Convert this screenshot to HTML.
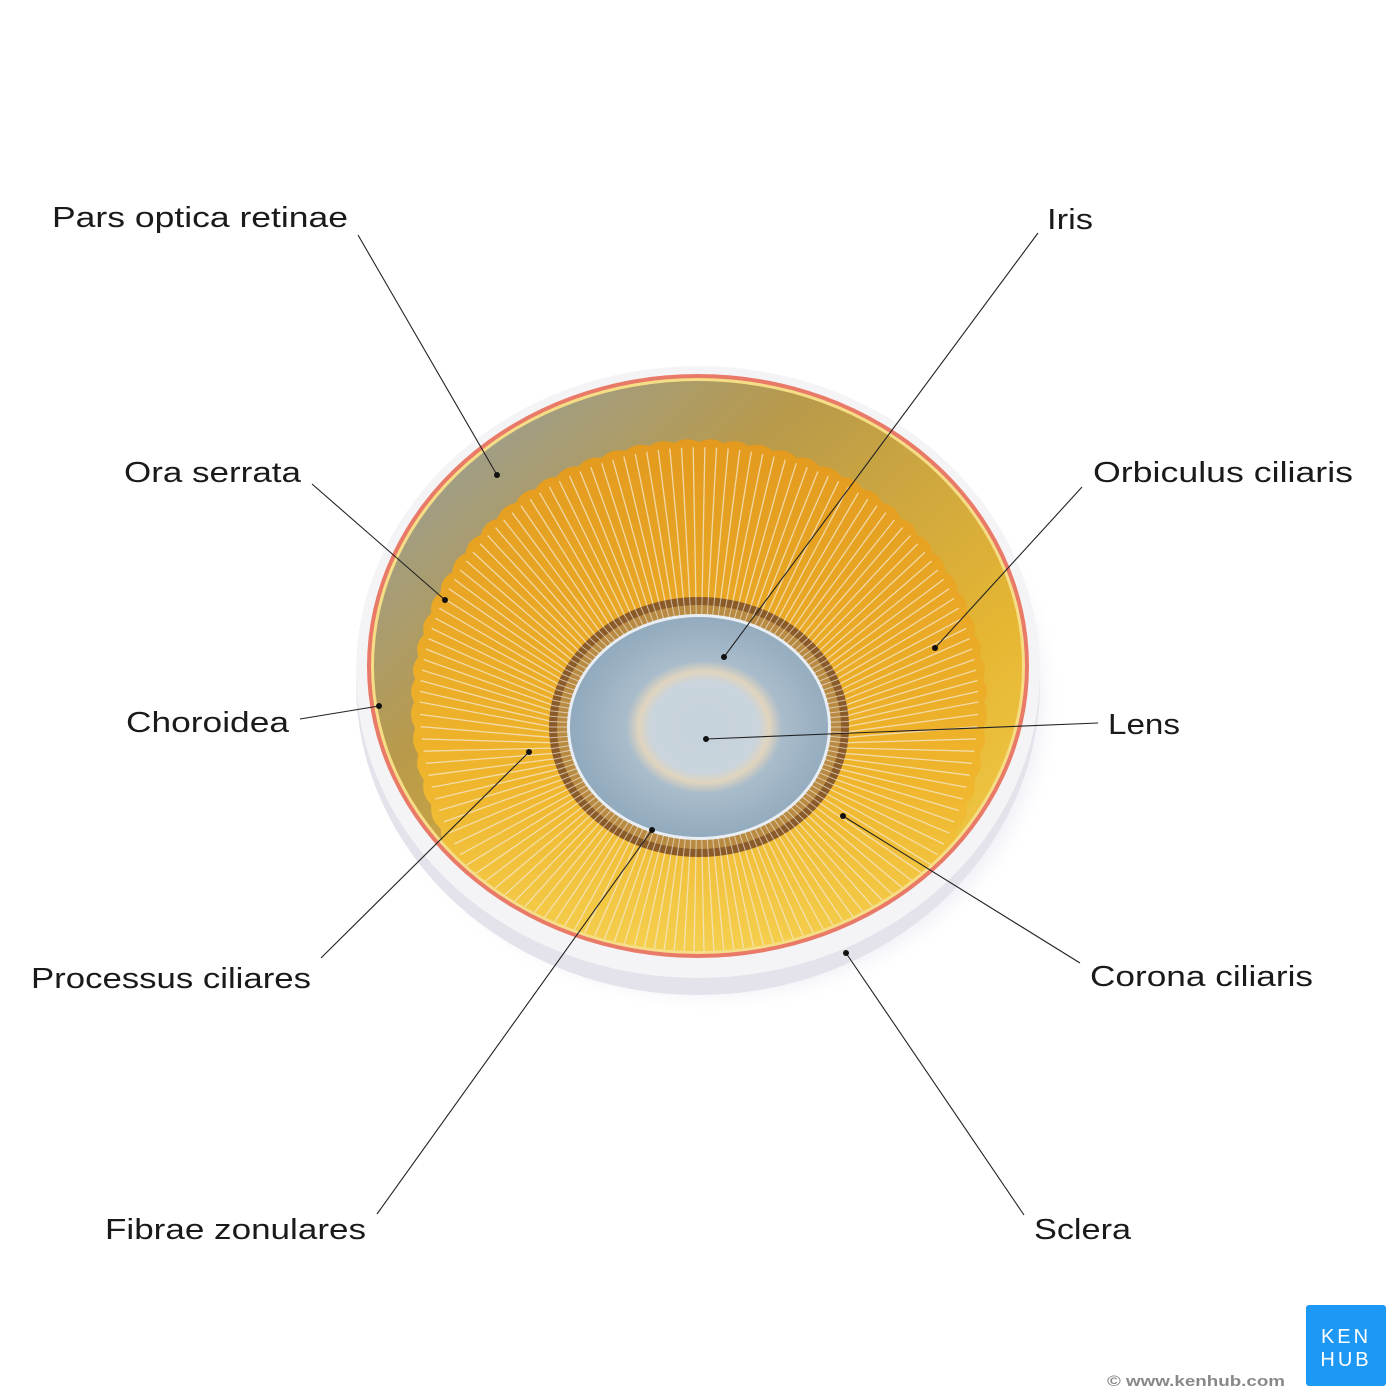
<!DOCTYPE html>
<html><head><meta charset="utf-8"><style>
html,body{margin:0;padding:0;background:#fff;width:1400px;height:1400px;overflow:hidden;}
svg{display:block;}
text{font-family:"Liberation Sans",sans-serif;}
</style></head><body>
<svg id="s" width="1400" height="1400" viewBox="0 0 1400 1400" xmlns="http://www.w3.org/2000/svg">
<defs>
<radialGradient id="shadow" cx="0.5" cy="0.5" r="0.5">
<stop offset="0.85" stop-color="#b8b8d8" stop-opacity="0.6"/><stop offset="1" stop-color="#fff" stop-opacity="0"/>
</radialGradient>
<linearGradient id="inner" x1="0" y1="0" x2="1" y2="1">
<stop offset="0" stop-color="#8fa0ae"/><stop offset="0.35" stop-color="#b99a4a"/><stop offset="0.7" stop-color="#e6b632"/><stop offset="1" stop-color="#f2d050"/>
</linearGradient>
<linearGradient id="cil2" x1="0" y1="0" x2="0" y2="1">
<stop offset="0" stop-color="#e39a1e"/><stop offset="0.6" stop-color="#efb52c"/><stop offset="1" stop-color="#f6d758"/>
</linearGradient>
<radialGradient id="lens" cx="0.52" cy="0.5" r="0.55">
<stop offset="0" stop-color="#c6d2dc"/><stop offset="0.38" stop-color="#c9d4dc"/><stop offset="0.46" stop-color="#e0d4be"/><stop offset="0.55" stop-color="#a9bccb"/><stop offset="1" stop-color="#8ea7bb"/>
</radialGradient>
<clipPath id="clipIn"><ellipse cx="698" cy="666" rx="324" ry="285"/></clipPath>
</defs>
<ellipse cx="710" cy="700" rx="355" ry="315" fill="url(#shadow)"/>
<ellipse cx="698" cy="683" rx="342" ry="312" fill="#e4e2ea"/>
<ellipse cx="698" cy="672" rx="342" ry="306" fill="#f4f3f6"/>
<ellipse cx="698" cy="666" rx="331" ry="292" fill="#e97a68"/>
<ellipse cx="698" cy="666" rx="327" ry="288" fill="#f6de86"/>
<ellipse cx="698" cy="666" rx="324" ry="285" fill="url(#inner)"/>
<g clip-path="url(#clipIn)">
<path id="ora" fill="url(#cil2)" d=""/>
<g id="fib" stroke="#f3e6c8" stroke-width="1.3" fill="none" opacity="0.8"></g>
</g>
<ellipse cx="699" cy="727" rx="150" ry="130" fill="#8a5a28"/>
<ellipse cx="699" cy="727" rx="142" ry="122" fill="#b88a42"/>
<g id="fib2" stroke="#efe6d8" stroke-width="1" opacity="0.7"></g>
<ellipse cx="699" cy="727" rx="132" ry="113" fill="#e8eef3"/>
<ellipse cx="699" cy="727" rx="129" ry="110" fill="url(#lens)"/>
<g stroke="#222" stroke-width="1.1">
<line x1="358" y1="235" x2="497" y2="475"/>
<line x1="1038" y1="233" x2="724" y2="657"/>
<line x1="312" y1="484" x2="445" y2="600"/>
<line x1="1082" y1="487" x2="935" y2="648"/>
<line x1="300" y1="719" x2="379" y2="706"/>
<line x1="1098" y1="723" x2="706" y2="739"/>
<line x1="321" y1="958" x2="529" y2="752"/>
<line x1="1080" y1="963" x2="843" y2="816"/>
<line x1="377" y1="1214" x2="652" y2="830"/>
<line x1="1024" y1="1215" x2="846" y2="953"/>
</g>
<g fill="#111">
<circle cx="497" cy="475" r="3"/><circle cx="724" cy="657" r="3"/><circle cx="445" cy="600" r="3"/>
<circle cx="935" cy="648" r="3"/><circle cx="379" cy="706" r="3"/><circle cx="706" cy="739" r="3"/>
<circle cx="529" cy="752" r="3"/><circle cx="843" cy="816" r="3"/><circle cx="652" cy="830" r="3"/><circle cx="846" cy="953" r="3"/>
</g>
<g fill="#1a1a1a" font-size="29">
<text x="52" y="227" textLength="296" lengthAdjust="spacingAndGlyphs">Pars optica retinae</text>
<text x="1047" y="229" textLength="46" lengthAdjust="spacingAndGlyphs">Iris</text>
<text x="124" y="482" textLength="177" lengthAdjust="spacingAndGlyphs">Ora serrata</text>
<text x="1093" y="482" textLength="260" lengthAdjust="spacingAndGlyphs">Orbiculus ciliaris</text>
<text x="126" y="732" textLength="163" lengthAdjust="spacingAndGlyphs">Choroidea</text>
<text x="1108" y="734" textLength="72" lengthAdjust="spacingAndGlyphs">Lens</text>
<text x="31" y="988" textLength="280" lengthAdjust="spacingAndGlyphs">Processus ciliares</text>
<text x="1090" y="986" textLength="223" lengthAdjust="spacingAndGlyphs">Corona ciliaris</text>
<text x="105" y="1239" textLength="261" lengthAdjust="spacingAndGlyphs">Fibrae zonulares</text>
<text x="1034" y="1239" textLength="97" lengthAdjust="spacingAndGlyphs">Sclera</text>
</g>
<rect x="1306" y="1305" width="80" height="81" rx="3" fill="#1e98f5"/>
<text x="1346" y="1343" fill="#fff" font-size="20" text-anchor="middle" letter-spacing="3">KEN</text>
<text x="1346" y="1366" fill="#fff" font-size="20" text-anchor="middle" letter-spacing="3">HUB</text>
<text x="1107" y="1386" fill="#888" font-size="15" font-weight="bold" textLength="178" lengthAdjust="spacingAndGlyphs">© www.kenhub.com</text>
</svg>
<script>
(function(){
var NS="http://www.w3.org/2000/svg";
var cx=699,cy=727;
var d="",N=72;
function pt(t,sc){var rx=285*sc, ry=260*sc;return [cx+rx*Math.cos(t), cy-25+ry*Math.sin(t)+(Math.sin(t)>0?40*Math.sin(t):0)];}
for(var i=0;i<=N*4;i++){
  var t=i/(N*4)*2*Math.PI;
  var p=pt(t,1+0.012*Math.abs(Math.sin(t*N/2)));
  d+=(i?"L":"M")+p[0].toFixed(1)+" "+p[1].toFixed(1);
}
document.getElementById("ora").setAttribute("d",d+"Z");
var g=document.getElementById("fib"),g2=document.getElementById("fib2");
for(var i=0;i<150;i++){
  var t=i/150*2*Math.PI;
  var p=pt(t,0.98);
  var l=document.createElementNS(NS,"line");
  l.setAttribute("x1",cx+146*Math.cos(t));l.setAttribute("y1",cy+126*Math.sin(t));l.setAttribute("x2",p[0]);l.setAttribute("y2",p[1]);
  g.appendChild(l);
  var m=document.createElementNS(NS,"line");
  m.setAttribute("x1",cx+131*Math.cos(t));m.setAttribute("y1",cy+112*Math.sin(t));
  m.setAttribute("x2",cx+150*Math.cos(t));m.setAttribute("y2",cy+130*Math.sin(t));
  g2.appendChild(m);
}
})();
</script>
</body></html>
